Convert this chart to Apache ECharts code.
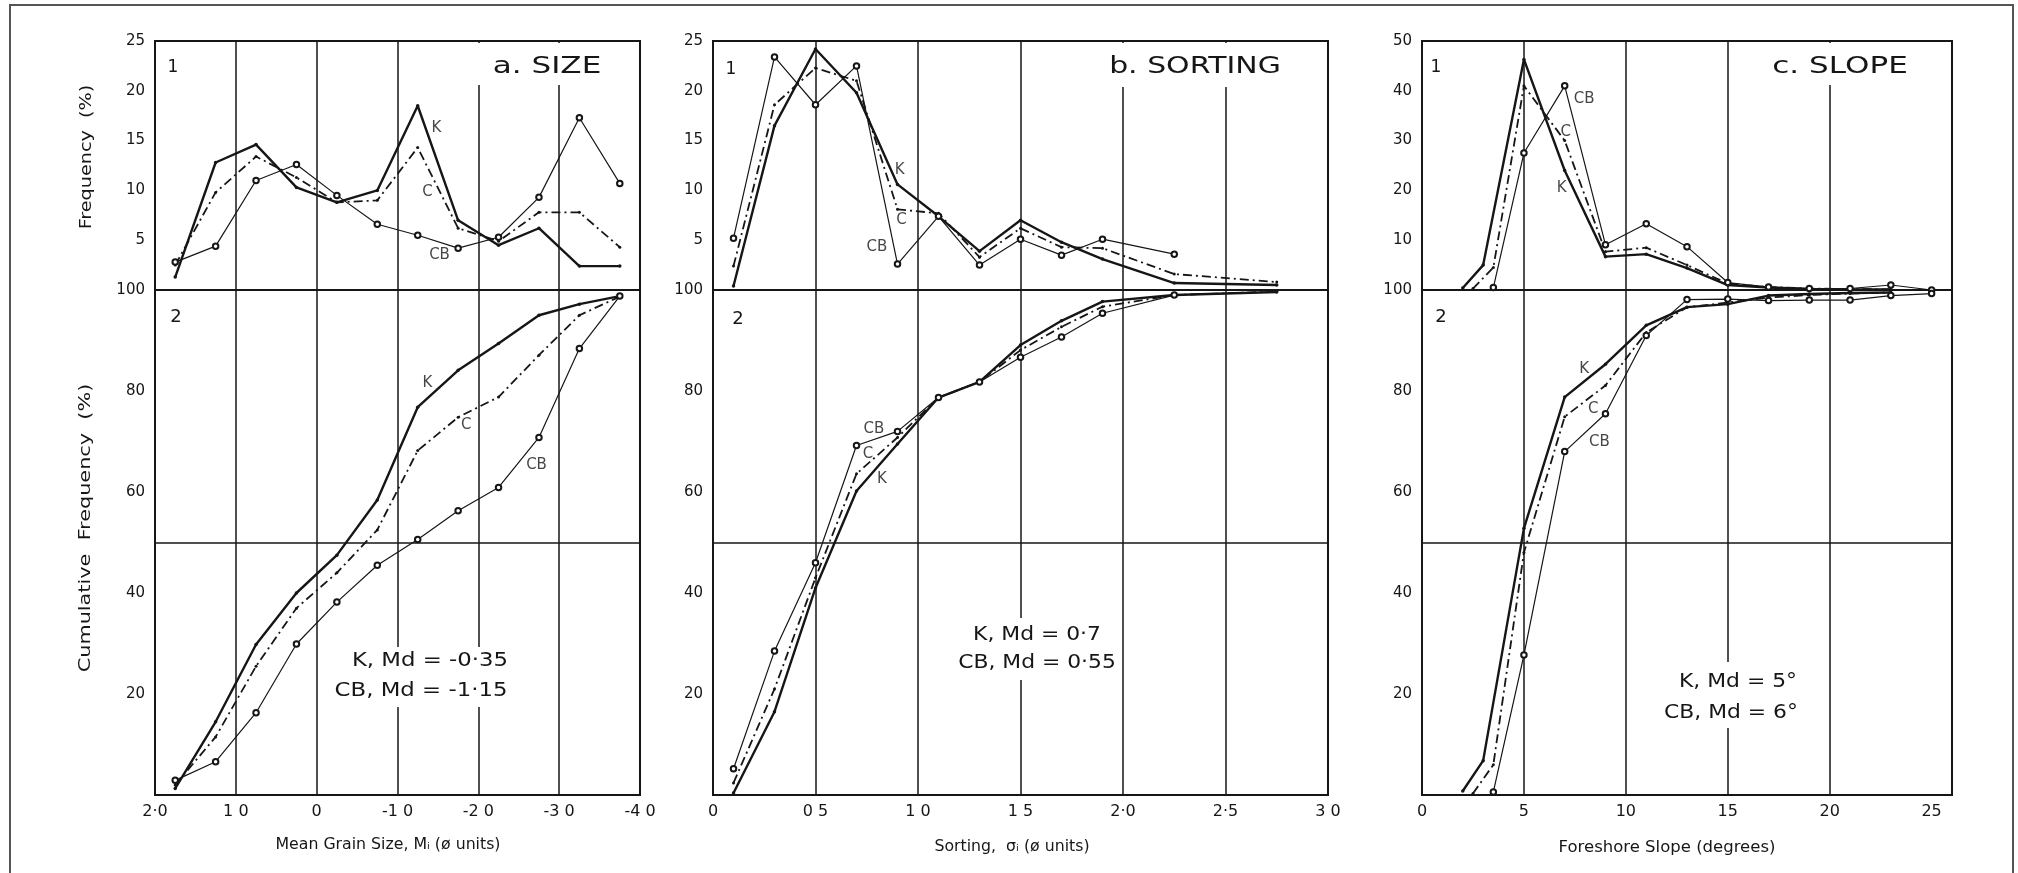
<!DOCTYPE html>
<html>
<head>
<meta charset="utf-8">
<script src="https://cdn.jsdelivr.net/npm/echarts@6/dist/echarts.min.js"></script>
<style>
html,body{margin:0;padding:0;background:#fff;}
#chart{width:2018px;height:873px;}
</style>
</head>
<body>
<div id="chart"></div>
<script>
// ---------------- DATA ----------------
// a. SIZE  (mean grain size, phi units)
const sizeX      = [1.75, 1.25, 0.75, 0.25, -0.25, -0.75, -1.25, -1.75, -2.25, -2.75, -3.25, -3.75];
const sizeFreqK  = [1.3, 12.8, 14.6, 10.3, 8.8, 10.0, 18.5, 7.0, 4.5, 6.2, 2.4, 2.4];
const sizeFreqC  = [2.5, 9.8, 13.4, 11.3, 8.8, 9.0, 14.3, 6.2, 4.9, 7.8, 7.8, 4.3];
const sizeFreqCB = [2.8, 4.4, 11.0, 12.6, 9.5, 6.6, 5.5, 4.2, 5.3, 9.3, 17.3, 10.7];
const sizeCumK   = [1.3, 14.5, 29.8, 40.0, 47.5, 58.4, 76.8, 84.1, 89.4, 95.0, 97.2, 98.8];
const sizeCumC   = [2.0, 11.5, 25.5, 37.0, 44.0, 52.5, 68.2, 74.8, 78.8, 87.1, 95.0, 98.7];
const sizeCumCB  = [2.9, 6.6, 16.3, 29.9, 38.2, 45.5, 50.6, 56.3, 60.9, 70.8, 88.4, 98.8];
const sizeTickValues = [2, 1, 0, -1, -2, -3, -4];
const sizeTickLabels = ['2·0', '1 0', '0', '-1 0', '-2 0', '-3 0', '-4 0'];
const sizeGridX = [1, 0, -1, -2, -3];

// b. SORTING (phi units)
const sortX      = [0.1, 0.3, 0.5, 0.7, 0.9, 1.1, 1.3, 1.5, 1.7, 1.9, 2.25, 2.75];
const sortCBX    = [0.1, 0.3, 0.5, 0.7, 0.9, 1.1, 1.3, 1.5, 1.7, 1.9, 2.25];
const sortFreqK  = [0.4, 16.5, 24.2, 19.8, 10.6, 7.4, 3.9, 7.0, 4.8, 3.1, 0.7, 0.5];
const sortFreqC  = [2.4, 18.6, 22.3, 21.0, 8.1, 7.7, 3.3, 6.2, 4.3, 4.2, 1.6, 0.8];
const sortFreqCB = [5.2, 23.4, 18.6, 22.5, 2.6, 7.4, 2.5, 5.1, 3.5, 5.1, 3.6];
const sortCumK   = [0.4, 16.5, 41.0, 60.2, 69.5, 78.7, 81.8, 89.1, 93.9, 97.7, 99.0, 99.6];
const sortCumC   = [2.4, 21.0, 43.0, 63.6, 70.8, 78.7, 81.8, 88.1, 92.7, 96.7, 99.0, 99.7];
const sortCumCB  = [5.2, 28.5, 46.0, 69.2, 72.0, 78.7, 81.8, 86.7, 90.7, 95.4, 99.0];
const sortTickValues = [0, 0.5, 1, 1.5, 2, 2.5, 3];
const sortTickLabels = ['0', '0 5', '1 0', '1 5', '2·0', '2·5', '3 0'];
const sortGridX = [0.5, 1, 1.5, 2, 2.5];

// c. SLOPE (degrees)
const slopeKX     = [2, 3, 5, 7, 9, 11, 13, 15, 17, 19, 21, 23];
const slopeCX     = [2.5, 3.5, 5, 7, 9, 11, 13, 15, 17, 19, 21, 23];
const slopeCBX    = [3.5, 5, 7, 9, 11, 13, 15, 17, 19, 21, 23, 25];
const slopeFreqK  = [0.4, 5.0, 46.3, 24.0, 6.7, 7.2, 4.4, 1.0, 0.5, 0.2, 0.1, 0.1];
const slopeFreqC  = [0.3, 4.5, 41.0, 30.0, 7.7, 8.5, 5.0, 1.3, 0.6, 0.3, 0.2, 0.1];
const slopeFreqCB = [0.5, 27.5, 41.0, 9.1, 13.3, 8.7, 1.5, 0.6, 0.3, 0.3, 1.0, 0.0];
const slopeCumK   = [0.8, 6.8, 52.8, 78.8, 85.3, 93.0, 96.6, 97.2, 98.9, 99.2, 99.4, 99.5];
const slopeCumC   = [0.3, 6.0, 48.0, 74.9, 81.1, 91.6, 96.6, 97.5, 98.5, 99.0, 99.3, 99.5];
const slopeCumCB  = [0.6, 27.7, 68.0, 75.5, 91.0, 98.1, 98.2, 97.9, 98.0, 98.0, 98.9, 99.3];
const slopeTickValues = [0, 5, 10, 15, 20, 25];
const slopeTickLabels = ['0', '5', '10', '15', '20', '25'];
const slopeGridX = [5, 10, 15, 20];

const cumGridY = [50];

// ---------------- LAYOUT / STYLE ----------------
const INK = '#161616';
const FONT = '"DejaVu Sans", "Liberation Sans", sans-serif';
const TOP_Y = 41, TOP_H = 249, BOT_H = 505;

const panels = [
  { left: 155, width: 485, xMin: -4, xMax: 2, inverse: true, interval: 1, topMax: 25, topInt: 5,
    tickValues: sizeTickValues, tickLabels: sizeTickLabels, gridX: sizeGridX,
    freq: [[sizeX, sizeFreqK], [sizeX, sizeFreqC], [sizeX, sizeFreqCB]],
    cum:  [[sizeX, sizeCumK], [sizeX, sizeCumC], [sizeX, sizeCumCB]],
    freqLabels: [['K', -1.48, 16.3], ['C', -1.37, 9.8], ['CB', -1.52, 3.5]],
    cumLabels:  [['K', -1.37, 81.5], ['C', -1.85, 73.2], ['CB', -2.72, 65.3]] },
  { left: 713, width: 615, xMin: 0, xMax: 3, inverse: false, interval: 0.5, topMax: 25, topInt: 5,
    tickValues: sortTickValues, tickLabels: sortTickLabels, gridX: sortGridX,
    freq: [[sortX, sortFreqK], [sortX, sortFreqC], [sortCBX, sortFreqCB]],
    cum:  [[sortX, sortCumK], [sortX, sortCumC], [sortCBX, sortCumCB]],
    freqLabels: [['K', 0.91, 12.0], ['C', 0.92, 7.0], ['CB', 0.80, 4.3]],
    cumLabels:  [['CB', 0.785, 72.4], ['C', 0.756, 67.5], ['K', 0.824, 62.5]] },
  { left: 1422, width: 530, xMin: 0, xMax: 26, inverse: false, interval: 5, topMax: 50, topInt: 10,
    tickValues: slopeTickValues, tickLabels: slopeTickLabels, gridX: slopeGridX,
    freq: [[slopeKX, slopeFreqK], [slopeCX, slopeFreqC], [slopeCBX, slopeFreqCB]],
    cum:  [[slopeKX, slopeCumK], [slopeCX, slopeCumC], [slopeCBX, slopeCumCB]],
    freqLabels: [['CB', 7.95, 38.4], ['C', 7.05, 31.7], ['K', 6.85, 20.5]],
    cumLabels:  [['K', 7.95, 84.3], ['C', 8.4, 76.4], ['CB', 8.7, 69.8]] }
];

const styles = [
  { lineStyle: { color: INK, width: 2.4, type: 'solid' }, symbol: 'circle', symbolSize: 3.5 },
  { lineStyle: { color: INK, width: 1.8, type: [9, 4, 2, 4] }, symbol: 'circle', symbolSize: 3 },
  { lineStyle: { color: INK, width: 1.2, type: 'solid' }, symbol: 'emptyCircle', symbolSize: 5.5 }
];
const names = ['K', 'C', 'CB'];

const grids = [], xAxes = [], yAxes = [], series = [];

function tickFormatter(p) {
  return function (v) {
    const i = p.tickValues.findIndex(t => Math.abs(t - v) < 1e-6);
    return i >= 0 ? p.tickLabels[i] : '';
  };
}

panels.forEach((p, pi) => {
  [0, 1].forEach(part => {
    const gi = pi * 2 + part;
    const isTop = part === 0;
    grids.push({
      left: p.left, width: p.width,
      top: isTop ? TOP_Y : TOP_Y + TOP_H,
      height: isTop ? TOP_H : BOT_H,
      show: true, borderColor: INK, borderWidth: 2, backgroundColor: 'transparent'
    });
    xAxes.push({
      gridIndex: gi, type: 'value', min: p.xMin, max: p.xMax, interval: p.interval, inverse: p.inverse,
      axisLine: { show: false }, axisTick: { show: false }, splitLine: { show: false },
      axisLabel: isTop ? { show: false } : {
        show: true, formatter: tickFormatter(p), color: INK, fontSize: 16, fontFamily: FONT, margin: 9,
        showMinLabel: true, showMaxLabel: true
      }
    });
    yAxes.push({
      gridIndex: gi, type: 'value', min: 0, max: isTop ? p.topMax : 100, interval: isTop ? p.topInt : 20,
      axisLine: { show: false }, axisTick: { show: false }, splitLine: { show: false },
      axisLabel: {
        formatter: v => (v === 0 ? '' : String(v)), color: INK, fontSize: 15, fontFamily: FONT, margin: 10
      }
    });
    const sets = isTop ? p.freq : p.cum;
    sets.forEach((s, si) => {
      const st = styles[si];
      const ser = {
        type: 'line', name: names[si], xAxisIndex: gi, yAxisIndex: gi,
        data: s[0].map((x, i) => [x, s[1][i]]),
        lineStyle: st.lineStyle, symbol: st.symbol, symbolSize: st.symbolSize,
        itemStyle: { color: INK, borderColor: INK, borderWidth: si === 2 ? 1.2 : 0 },
        showSymbol: true, silent: true, animation: false, z: 3
      };
      if (si === 2) {
        const ml = p.gridX.map(v => ({ xAxis: v }));
        if (!isTop) cumGridY.forEach(v => ml.push({ yAxis: v }));
        ser.markLine = {
          silent: true, symbol: ['none', 'none'], label: { show: false },
          lineStyle: { color: INK, width: 1.5, type: 'solid' }, data: ml, animation: false, z: 1
        };
      }
      series.push(ser);
    });
    const labs = isTop ? p.freqLabels : p.cumLabels;
    series.push({
      type: 'scatter', xAxisIndex: gi, yAxisIndex: gi, symbolSize: 0, silent: true, animation: false, z: 5,
      data: labs.map(l => ({ name: l[0], value: [l[1], l[2]] })),
      label: { show: true, position: 'inside', formatter: '{b}', color: INK, fontSize: 15, fontFamily: FONT }
    });
  });
});

// ---------------- TEXT ANNOTATIONS ----------------
function txt(text, x, y, size, extra) {
  return Object.assign({
    type: 'text', x: x, y: y, z: 20,
    style: { text: text, fill: INK, fontSize: size, fontFamily: FONT, align: 'center', verticalAlign: 'middle' }
  }, extra || {});
}
function blank(x, y, w, h) {
  return { type: 'rect', z: 15, shape: { x: x, y: y, width: w, height: h }, style: { fill: '#fff' } };
}

const graphics = [
  { type: 'rect', z: 30, shape: { x: 10, y: 5, width: 2003, height: 900 },
    style: { fill: 'none', stroke: '#555', lineWidth: 2 } },
  // panel titles
  blank(466, 43, 152, 42), txt('a. SIZE', 547, 67, 23, { scaleX: 1.35 }),
  blank(1100, 43, 196, 44), txt('b. SORTING', 1195, 67, 23, { scaleX: 1.3 }),
  blank(1758, 43, 168, 42), txt('c. SLOPE', 1840, 67, 23, { scaleX: 1.35 }),
  // sub-panel numbers
  txt('1', 173, 68, 17), txt('1', 731, 70, 17), txt('1', 1436, 68, 17),
  txt('2', 176, 317, 18), txt('2', 738, 319, 18), txt('2', 1441, 317, 18),
  // medians
  blank(328, 647, 192, 60),
  txt('K, Md = -0·35', 430, 661, 19, { scaleX: 1.2 }),
  txt('CB, Md = -1·15', 421, 691, 19, { scaleX: 1.2 }),
  blank(955, 618, 165, 62),
  txt('K, Md = 0·7', 1037, 635, 19, { scaleX: 1.15 }),
  txt('CB, Md = 0·55', 1037, 663, 19, { scaleX: 1.15 }),
  blank(1660, 662, 142, 66),
  txt('K, Md = 5°', 1738, 682, 19, { scaleX: 1.15 }),
  txt('CB, Md = 6°', 1731, 713, 19, { scaleX: 1.15 }),
  // axis titles
  txt('Mean Grain Size, Mᵢ (ø units)', 388, 845, 15, { scaleX: 1.05 }),
  txt('Sorting,  σᵢ (ø units)', 1012, 847, 15, { scaleX: 1.05 }),
  txt('Foreshore Slope (degrees)', 1667, 848, 15, { scaleX: 1.1 }),
  txt('Frequency  (%)', 87, 157, 16, { rotation: Math.PI / 2, scaleX: 1.2 }),
  txt('Cumulative  Frequency  (%)', 86, 528, 16, { rotation: Math.PI / 2, scaleX: 1.3 })
];

const chart = echarts.init(document.getElementById('chart'), null, { renderer: 'canvas' });
chart.setOption({
  backgroundColor: '#fff',
  animation: false,
  textStyle: { fontFamily: FONT },
  grid: grids,
  xAxis: xAxes,
  yAxis: yAxes,
  series: series,
  graphic: { elements: graphics }
});
</script>
</body>
</html>
